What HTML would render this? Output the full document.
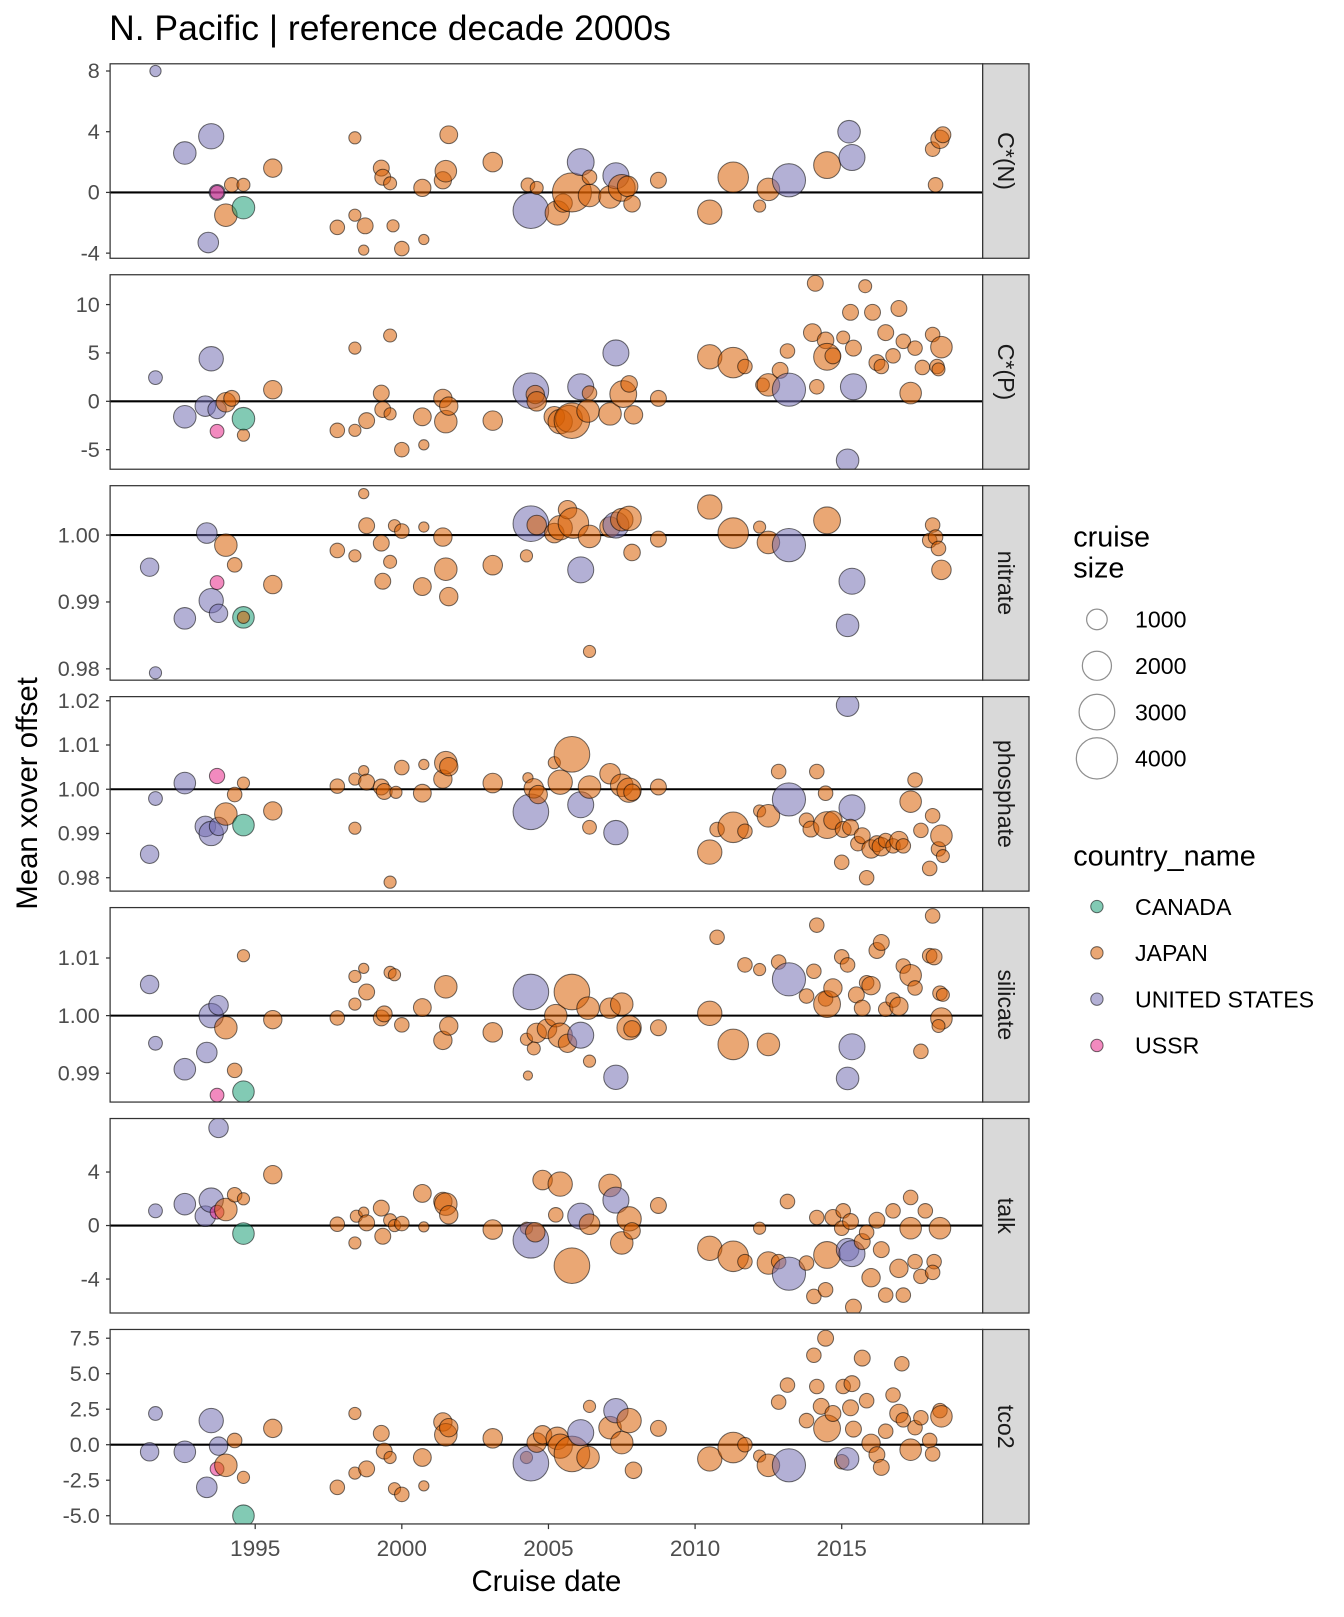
<!DOCTYPE html>
<html><head><meta charset="utf-8"><style>
body{margin:0;background:#fff}
svg text{font-family:"Liberation Sans",sans-serif}
</style></head><body>
<svg id="chart" width="1344" height="1612" viewBox="0 0 1344 1612" xmlns="http://www.w3.org/2000/svg">
<g id="scaler" transform="scale(1.029)">
<text x="106" y="39" font-size="34.5" fill="#000">N. Pacific | reference decade 2000s</text>
<text transform="translate(36,771) rotate(-90)" text-anchor="middle" font-size="28.5">Mean xover offset</text>
<text x="531" y="1546" text-anchor="middle" font-size="28.5">Cruise date</text>
<g id="panels"></g>
<g id="legend">
<text x="1043" y="531" font-size="28">cruise</text>
<text x="1043" y="561" font-size="28">size</text>
<text x="1043" y="841" font-size="28">country_name</text>
</g>
</g>
</svg>
<script>
const xTickYears=[1995,2000,2005,2010,2015];
const countryNames={C:'CANADA',J:'JAPAN',U:'UNITED STATES',R:'USSR'};
const countryColors={C:'#1b9e77',J:'#d95f02',U:'#7570b3',R:'#e7298a'};
const legendCountries=['C','J','U','R'];
const legendSizes=[1000,2000,3000,4000];

const dataCN=[[1991.6,8,300,'U'],[1993.5,3.7,1500,'U'],[1992.6,2.6,1200,'U'],[1993.4,-3.3,1000,'U'],[1993.7,0,600,'U'],[1993.7,0,450,'R'],[1994.0,-1.5,1200,'J'],[1994.2,0.5,500,'J'],[1994.6,0.5,400,'J'],[1994.6,-1.0,1200,'C'],[1995.6,1.6,800,'J'],[1998.4,3.6,350,'J'],[1997.8,-2.3,500,'J'],[1998.4,-1.5,350,'J'],[1998.75,-2.2,600,'J'],[1998.7,-3.8,250,'J'],[1999.3,1.6,600,'J'],[1999.35,1.0,600,'J'],[1999.6,0.6,400,'J'],[1999.7,-2.2,350,'J'],[2000,-3.7,500,'J'],[2000.7,0.3,700,'J'],[2000.75,-3.1,250,'J'],[2001.4,0.8,700,'J'],[2001.5,1.4,1100,'J'],[2001.6,3.8,750,'J'],[2003.1,2.0,900,'J'],[2004.3,0.5,450,'J'],[2004.4,-1.2,3000,'U'],[2004.6,0.3,400,'J'],[2005.3,-1.35,1400,'J'],[2005.5,-0.7,800,'J'],[2005.8,0,3600,'J'],[2006.1,2.0,1700,'U'],[2006.4,-0.2,1200,'J'],[2006.4,1.0,500,'J'],[2007.1,-0.3,1200,'J'],[2007.3,1.1,1600,'U'],[2007.5,0.3,1700,'J'],[2007.7,0.4,1000,'J'],[2007.85,-0.75,650,'J'],[2008.75,0.8,600,'J'],[2010.5,-1.3,1400,'J'],[2011.3,1.0,2200,'J'],[2012.2,-0.9,350,'J'],[2012.5,0.2,1200,'J'],[2013.2,0.8,2600,'U'],[2014.5,1.8,1700,'J'],[2015.25,4.0,1200,'U'],[2015.35,2.3,1600,'U'],[2018.1,2.85,500,'J'],[2018.2,0.5,500,'J'],[2018.35,3.5,800,'J'],[2018.45,3.8,600,'J']];

const dataCP=[[1991.6,2.45,450,'U'],[1993.5,4.4,1400,'U'],[1992.6,-1.6,1200,'U'],[1993.3,-0.5,1000,'U'],[1993.7,-0.85,800,'U'],[1993.7,-3.1,450,'R'],[1994,-0.1,900,'J'],[1994.2,0.3,600,'J'],[1994.6,-3.5,350,'J'],[1994.6,-1.8,1200,'C'],[1995.6,1.2,800,'J'],[1998.4,5.5,350,'J'],[1997.8,-3.0,500,'J'],[1998.4,-3.0,350,'J'],[1998.8,-2.0,600,'J'],[1999.3,0.85,600,'J'],[1999.35,-0.85,600,'J'],[1999.6,6.8,400,'J'],[1999.6,-1.3,350,'J'],[2000,-5,500,'J'],[2000.7,-1.6,750,'J'],[2000.75,-4.5,250,'J'],[2001.4,0.3,800,'J'],[2001.5,-2.1,1200,'J'],[2001.6,-0.5,800,'J'],[2003.1,-2.0,900,'J'],[2004.4,1.1,3000,'U'],[2004.55,0.7,800,'J'],[2004.6,0,900,'J'],[2005.2,-1.6,1000,'J'],[2005.4,-2.1,1400,'J'],[2005.7,-1.8,1700,'J'],[2005.8,-2.0,3000,'J'],[2006.1,1.5,1600,'U'],[2006.4,0.85,500,'J'],[2006.35,-1.0,1200,'J'],[2007.1,-1.3,1200,'J'],[2007.3,5.0,1600,'U'],[2007.55,0.75,1700,'J'],[2007.75,1.8,650,'J'],[2007.9,-1.4,800,'J'],[2008.75,0.3,600,'J'],[2010.5,4.6,1400,'J'],[2011.3,4.0,2200,'J'],[2011.7,3.6,500,'J'],[2012.3,1.7,450,'J'],[2012.5,1.7,1200,'J'],[2012.9,3.2,600,'J'],[2013.2,1.2,2600,'U'],[2013.15,5.2,500,'J'],[2014.1,12.2,600,'J'],[2014.0,7.1,750,'J'],[2014.15,1.5,500,'J'],[2014.45,6.3,650,'J'],[2014.5,4.6,1700,'J'],[2014.7,4.7,600,'J'],[2015.4,1.5,1600,'U'],[2015.2,-6.1,1200,'U'],[2015.05,6.6,400,'J'],[2015.3,9.2,600,'J'],[2015.4,5.5,600,'J'],[2015.8,11.9,400,'J'],[2016.05,9.2,600,'J'],[2016.2,4.0,600,'J'],[2016.35,3.6,500,'J'],[2016.5,7.1,600,'J'],[2016.75,4.7,500,'J'],[2016.95,9.6,600,'J'],[2017.1,6.2,500,'J'],[2017.35,0.85,1100,'J'],[2017.5,5.5,500,'J'],[2017.75,3.5,500,'J'],[2018.1,6.9,500,'J'],[2018.25,3.6,500,'J'],[2018.4,5.6,1100,'J'],[2018.3,3.3,400,'J']];

const dataNO3=[[1991.4,0.9952,800,'U'],[1991.6,0.9794,350,'U'],[1992.6,0.98755,1100,'U'],[1993.35,1.0003,1000,'U'],[1993.5,0.9902,1400,'U'],[1993.75,0.9883,800,'U'],[1993.7,0.9929,450,'R'],[1994.0,0.9985,1200,'J'],[1994.3,0.99555,500,'J'],[1994.6,0.9877,1100,'C'],[1994.6,0.9877,350,'J'],[1995.6,0.9926,800,'J'],[1997.8,0.9977,500,'J'],[1998.4,0.9969,350,'J'],[1998.7,1.0062,250,'J'],[1998.8,1.0014,600,'J'],[1999.3,0.9988,600,'J'],[1999.35,0.9931,600,'J'],[1999.6,0.996,400,'J'],[1999.75,1.0014,350,'J'],[2000.0,1.0006,500,'J'],[2000.7,0.9923,750,'J'],[2000.75,1.0012,250,'J'],[2001.4,0.9997,800,'J'],[2001.5,0.9949,1200,'J'],[2001.6,0.9908,800,'J'],[2003.1,0.9955,900,'J'],[2004.25,0.9969,350,'J'],[2004.4,1.0017,3000,'U'],[2004.6,1.0015,900,'J'],[2005.2,1.0003,900,'J'],[2005.4,1.0011,1400,'J'],[2005.65,1.0038,800,'J'],[2005.85,1.0018,2200,'J'],[2006.1,0.9948,1600,'U'],[2006.4,0.9826,350,'J'],[2006.4,0.9998,1200,'J'],[2007.1,1.0012,1000,'J'],[2007.3,1.0015,1600,'U'],[2007.5,1.0023,1200,'J'],[2007.75,1.0025,1400,'J'],[2007.85,0.9974,650,'J'],[2008.75,0.9994,600,'J'],[2010.5,1.0042,1400,'J'],[2011.3,1.0003,2200,'J'],[2012.2,1.0012,350,'J'],[2012.5,0.9989,1200,'J'],[2013.2,0.9985,2600,'U'],[2014.5,1.0022,1700,'J'],[2015.35,0.9931,1600,'U'],[2015.2,0.9865,1200,'U'],[2018.1,1.0015,500,'J'],[2018.0,0.9992,500,'J'],[2018.2,0.9997,500,'J'],[2018.3,0.998,500,'J'],[2018.4,0.9948,900,'J']];

const dataPO4=[[1991.4,0.9853,800,'U'],[1991.6,0.9979,450,'U'],[1992.6,1.0014,1100,'U'],[1993.3,0.9916,1000,'U'],[1993.5,0.99,1400,'U'],[1993.75,0.9916,800,'U'],[1993.7,1.003,550,'R'],[1994,0.9944,1200,'J'],[1994.3,0.9988,500,'J'],[1994.6,1.0014,350,'J'],[1994.6,0.9919,1100,'C'],[1995.6,0.9951,800,'J'],[1997.8,1.0007,500,'J'],[1998.4,0.9912,350,'J'],[1998.4,1.0023,350,'J'],[1998.7,1.0042,250,'J'],[1998.8,1.0016,600,'J'],[1999.3,1.0005,600,'J'],[1999.4,0.9995,600,'J'],[1999.6,0.979,350,'J'],[1999.8,0.9993,350,'J'],[2000.0,1.0049,500,'J'],[2000.7,0.9991,750,'J'],[2000.75,1.0056,250,'J'],[2001.4,1.0023,800,'J'],[2001.5,1.006,1200,'J'],[2001.6,1.0051,800,'J'],[2003.1,1.0014,900,'J'],[2004.3,1.0026,250,'J'],[2004.4,0.9949,3000,'U'],[2004.5,1.0002,900,'J'],[2004.65,0.9988,800,'J'],[2005.2,1.006,350,'J'],[2005.4,1.0016,1400,'J'],[2005.8,1.0079,3000,'J'],[2006.1,0.9965,1600,'U'],[2006.4,0.9914,450,'J'],[2006.4,1.0005,1200,'J'],[2007.1,1.0035,1000,'J'],[2007.3,0.9902,1400,'U'],[2007.5,1.0009,1200,'J'],[2007.75,0.9998,1400,'J'],[2007.85,0.9993,650,'J'],[2008.75,1.0005,600,'J'],[2010.5,0.9858,1400,'J'],[2010.75,0.9909,500,'J'],[2011.3,0.9914,2200,'J'],[2011.7,0.9905,500,'J'],[2012.2,0.9951,350,'J'],[2012.5,0.994,1200,'J'],[2012.85,1.004,500,'J'],[2013.2,0.9977,2600,'U'],[2013.8,0.993,500,'J'],[2014.15,1.004,500,'J'],[2013.95,0.991,600,'J'],[2014.45,0.9991,500,'J'],[2014.5,0.9919,1700,'J'],[2014.7,0.993,800,'J'],[2015.0,0.9835,500,'J'],[2015.05,0.9909,600,'J'],[2015.2,1.019,1200,'U'],[2015.35,0.9958,1600,'U'],[2015.3,0.9914,600,'J'],[2015.55,0.9877,500,'J'],[2015.7,0.9895,600,'J'],[2015.85,0.98,500,'J'],[2016,0.9865,800,'J'],[2016.2,0.9877,600,'J'],[2016.35,0.987,800,'J'],[2016.5,0.9884,500,'J'],[2016.75,0.9872,500,'J'],[2016.95,0.9884,800,'J'],[2017.1,0.9872,500,'J'],[2017.35,0.9972,1100,'J'],[2017.5,1.0021,500,'J'],[2017.7,0.9907,500,'J'],[2018.0,0.9821,500,'J'],[2018.1,0.994,500,'J'],[2018.3,0.9865,500,'J'],[2018.4,0.9895,1100,'J'],[2018.45,0.9849,400,'J']];

const dataSI=[[1991.4,1.0054,800,'U'],[1991.6,0.9952,450,'U'],[1992.6,0.9907,1100,'U'],[1993.35,0.9936,1000,'U'],[1993.5,1.0,1400,'U'],[1993.75,1.0018,900,'U'],[1993.7,0.9862,450,'R'],[1994,0.9979,1200,'J'],[1994.3,0.9905,500,'J'],[1994.6,1.0104,350,'J'],[1994.6,0.9868,1100,'C'],[1995.6,0.9993,800,'J'],[1997.8,0.9996,500,'J'],[1998.4,1.002,350,'J'],[1998.4,1.0068,350,'J'],[1998.7,1.0082,250,'J'],[1998.8,1.0041,600,'J'],[1999.3,0.9996,600,'J'],[1999.4,1.0003,600,'J'],[1999.6,1.0075,350,'J'],[1999.75,1.0071,350,'J'],[2000.0,0.9984,500,'J'],[2000.7,1.0014,750,'J'],[2001.4,0.9957,800,'J'],[2001.5,1.005,1200,'J'],[2001.6,0.9982,800,'J'],[2003.1,0.9971,900,'J'],[2004.25,0.9959,350,'J'],[2004.3,0.9896,200,'J'],[2004.4,1.0041,3000,'U'],[2004.6,0.997,900,'J'],[2004.5,0.9943,400,'J'],[2004.95,0.9977,900,'J'],[2005.25,1.0,1200,'J'],[2005.4,0.9966,1400,'J'],[2005.65,0.9952,800,'J'],[2005.8,1.0041,3000,'J'],[2006.1,0.9966,1600,'U'],[2006.4,0.9921,350,'J'],[2006.35,1.0013,1200,'J'],[2007.1,1.0013,1000,'J'],[2007.3,0.9893,1400,'U'],[2007.5,1.002,1200,'J'],[2007.75,0.9979,1400,'J'],[2007.85,0.9977,650,'J'],[2008.75,0.9979,600,'J'],[2010.5,1.0004,1400,'J'],[2010.75,1.0136,500,'J'],[2011.3,0.995,2200,'J'],[2011.7,1.0088,500,'J'],[2012.2,1.008,350,'J'],[2012.5,0.995,1200,'J'],[2012.85,1.0093,500,'J'],[2013.2,1.0063,2600,'U'],[2013.8,1.0034,500,'J'],[2014.15,1.0157,500,'J'],[2014.05,1.0077,500,'J'],[2014.45,1.0029,500,'J'],[2014.5,1.002,1700,'J'],[2014.7,1.0048,800,'J'],[2015.0,1.0102,500,'J'],[2015.2,1.0088,500,'J'],[2015.35,0.9946,1600,'U'],[2015.2,0.9891,1200,'U'],[2015.5,1.0036,600,'J'],[2015.7,1.0013,600,'J'],[2015.85,1.0057,500,'J'],[2016,1.0052,800,'J'],[2016.2,1.0113,600,'J'],[2016.35,1.0127,600,'J'],[2016.5,1.0011,500,'J'],[2016.75,1.0027,500,'J'],[2016.95,1.0016,800,'J'],[2017.1,1.0086,500,'J'],[2017.35,1.007,1100,'J'],[2017.5,1.0048,500,'J'],[2017.7,0.9938,500,'J'],[2018.0,1.0104,500,'J'],[2018.1,1.0173,500,'J'],[2018.15,1.0102,600,'J'],[2018.35,1.0039,500,'J'],[2018.4,0.9995,1100,'J'],[2018.45,1.0036,400,'J'],[2018.3,0.9982,400,'J']];

const dataTALK=[[1991.6,1.1,450,'U'],[1992.6,1.6,1100,'U'],[1993.3,0.7,1000,'U'],[1993.5,1.9,1400,'U'],[1993.75,7.3,900,'U'],[1993.7,1.0,450,'R'],[1994,1.2,1200,'J'],[1994.3,2.3,500,'J'],[1994.6,2.0,350,'J'],[1994.6,-0.6,1100,'C'],[1995.6,3.8,800,'J'],[1997.8,0.1,500,'J'],[1998.4,-1.3,350,'J'],[1998.45,0.7,350,'J'],[1998.7,1.0,250,'J'],[1998.8,0.2,600,'J'],[1999.3,1.3,600,'J'],[1999.35,-0.8,600,'J'],[1999.6,0.4,400,'J'],[1999.75,0,350,'J'],[2000.0,0.15,500,'J'],[2000.7,2.4,750,'J'],[2000.75,-0.1,250,'J'],[2001.4,1.8,800,'J'],[2001.5,1.6,1200,'J'],[2001.6,0.8,800,'J'],[2003.1,-0.3,900,'J'],[2004.25,-0.2,350,'J'],[2004.4,-1.1,3000,'U'],[2004.55,-0.5,900,'J'],[2004.8,3.4,900,'J'],[2005.4,3.1,1400,'J'],[2005.25,0.8,500,'J'],[2005.8,-3.0,3000,'J'],[2006.1,0.7,1600,'U'],[2006.4,0.1,1000,'J'],[2007.1,3.0,1200,'J'],[2007.3,1.9,1600,'U'],[2007.5,-1.3,1200,'J'],[2007.75,0.5,1400,'J'],[2007.85,-0.4,650,'J'],[2008.75,1.5,600,'J'],[2010.5,-1.7,1400,'J'],[2011.3,-2.3,2200,'J'],[2011.7,-2.7,500,'J'],[2012.2,-0.2,350,'J'],[2012.5,-2.8,1200,'J'],[2012.85,-2.7,500,'J'],[2013.15,1.8,500,'J'],[2013.2,-3.6,2600,'U'],[2013.8,-2.8,500,'J'],[2014.05,-5.3,500,'J'],[2014.15,0.6,500,'J'],[2014.45,-4.8,500,'J'],[2014.5,-2.2,1700,'J'],[2014.7,0.6,600,'J'],[2015.0,-0.2,500,'J'],[2015.05,1.1,500,'J'],[2015.2,-1.8,1200,'U'],[2015.35,-2.1,1600,'U'],[2015.3,0.3,600,'J'],[2015.4,-6.1,600,'J'],[2015.7,-1.2,600,'J'],[2015.85,-0.5,500,'J'],[2016,-3.9,800,'J'],[2016.2,0.4,600,'J'],[2016.35,-1.8,600,'J'],[2016.5,-5.2,500,'J'],[2016.75,1.1,500,'J'],[2016.95,-3.2,800,'J'],[2017.1,-5.2,500,'J'],[2017.35,-0.2,1100,'J'],[2017.35,2.1,500,'J'],[2017.5,-2.7,500,'J'],[2017.7,-3.8,500,'J'],[2017.85,1.1,500,'J'],[2018.15,-2.7,500,'J'],[2018.1,-3.5,500,'J'],[2018.35,-0.2,1100,'J']];

const dataTCO2=[[1991.4,-0.5,800,'U'],[1991.6,2.2,450,'U'],[1992.6,-0.5,1100,'U'],[1993.35,-3.0,1000,'U'],[1993.5,1.7,1400,'U'],[1993.75,-0.1,800,'U'],[1993.7,-1.7,450,'R'],[1994,-1.45,1200,'J'],[1994.3,0.3,500,'J'],[1994.6,-2.3,350,'J'],[1994.6,-5.0,1100,'C'],[1995.6,1.15,800,'J'],[1997.8,-3.0,500,'J'],[1998.4,2.2,350,'J'],[1998.4,-2.0,350,'J'],[1998.8,-1.7,600,'J'],[1999.3,0.8,600,'J'],[1999.4,-0.45,600,'J'],[1999.6,-0.9,350,'J'],[1999.75,-3.1,350,'J'],[2000.0,-3.5,500,'J'],[2000.7,-0.9,750,'J'],[2000.75,-2.9,250,'J'],[2001.4,1.6,800,'J'],[2001.5,0.7,1200,'J'],[2001.6,1.2,800,'J'],[2003.1,0.45,900,'J'],[2004.25,-0.9,350,'J'],[2004.4,-1.3,3000,'U'],[2004.6,0.15,900,'J'],[2004.8,0.7,800,'J'],[2005.3,0.45,1200,'J'],[2005.4,-0.1,1400,'J'],[2005.8,-0.65,3000,'J'],[2006.1,0.85,1600,'U'],[2006.4,2.7,350,'J'],[2006.35,-0.9,1200,'J'],[2007.1,1.2,1200,'J'],[2007.3,2.4,1400,'U'],[2007.5,0.15,1200,'J'],[2007.75,1.7,1400,'J'],[2007.9,-1.8,650,'J'],[2008.75,1.15,600,'J'],[2010.5,-1.0,1400,'J'],[2011.3,-0.2,2200,'J'],[2011.7,0,500,'J'],[2012.2,-0.8,350,'J'],[2012.5,-1.45,1200,'J'],[2012.85,3.0,500,'J'],[2013.15,4.2,500,'J'],[2013.2,-1.45,2600,'U'],[2013.8,1.7,500,'J'],[2014.05,6.3,500,'J'],[2014.45,7.5,600,'J'],[2014.3,2.7,600,'J'],[2014.15,4.1,500,'J'],[2014.5,1.15,1700,'J'],[2014.7,2.2,600,'J'],[2015.0,-1.2,500,'J'],[2015.05,4.1,500,'J'],[2015.2,-1.0,1200,'U'],[2015.35,4.3,600,'J'],[2015.3,2.6,600,'J'],[2015.4,1.1,600,'J'],[2015.7,6.1,600,'J'],[2015.85,3.1,500,'J'],[2016,0.1,800,'J'],[2016.2,-0.7,600,'J'],[2016.35,-1.6,600,'J'],[2016.5,0.95,500,'J'],[2016.75,3.5,500,'J'],[2016.95,2.2,800,'J'],[2017.05,5.7,500,'J'],[2017.1,1.75,500,'J'],[2017.35,-0.35,1100,'J'],[2017.5,1.2,500,'J'],[2017.7,1.9,500,'J'],[2018.0,0.3,500,'J'],[2018.1,-0.65,500,'J'],[2018.35,2.4,500,'J'],[2018.4,2.0,1100,'J']];

const ticksCN=[8,4,0,-4], labelsCN=['8','4','0','-4'];
const ticksCP=[10,5,0,-5], labelsCP=['10','5','0','-5'];
const ticksNO3=[1.00,0.99,0.98], labelsNO3=['1.00','0.99','0.98'];
const ticksPO4=[1.02,1.01,1.00,0.99,0.98], labelsPO4=['1.02','1.01','1.00','0.99','0.98'];
const ticksSI=[1.01,1.00,0.99], labelsSI=['1.01','1.00','0.99'];
const ticksTALK=[4,0,-4], labelsTALK=['4','0','-4'];
const ticksTCO2=[7.5,5,2.5,0,-2.5,-5], labelsTCO2=['7.5','5.0','2.5','0.0','-2.5','-5.0'];

const NS='http://www.w3.org/2000/svg';
const X0=107,X1=955;
function xScale(yr){return 248+(yr-1995)*28.5;}
function rScale(s){return 10*Math.sqrt(s/1000);}
function mk(tag,attrs,parent){const e=document.createElementNS(NS,tag);for(const k in attrs)e.setAttribute(k,attrs[k]);parent.appendChild(e);return e;}

const panels=[
 ['C*(N)',62,0,187,14.75,dataCN,ticksCN,labelsCN,'cstar-n'],
 ['C*(P)',267,0,390,9.4,dataCP,ticksCP,labelsCP,'cstar-p'],
 ['nitrate',472,1,520,6500,dataNO3,ticksNO3,labelsNO3,'nitrate'],
 ['phosphate',677,1,767,4300,dataPO4,ticksPO4,labelsPO4,'phosphate'],
 ['silicate',882,1,987,5600,dataSI,ticksSI,labelsSI,'silicate'],
 ['talk',1087,0,1191,13,dataTALK,ticksTALK,labelsTALK,'talk'],
 ['tco2',1292,0,1404,13.8,dataTCO2,ticksTCO2,labelsTCO2,'tco2']
];
const root=document.getElementById('panels');
const defs=mk('defs',{},root);
panels.forEach((p,i)=>{
 const [name,top,ref,refPx,ppu,data,ticks,labels,slug]=p;
 const H=189;
 const yS=v=>refPx-(v-ref)*ppu;
 const g=mk('g',{},root);
 
 
 const cp=mk('clipPath',{id:'clip'+i},defs);
 mk('rect',{x:X0,y:top,width:X1-X0,height:H},cp);
 const bg=mk('rect',{x:X0,y:top,width:X1-X0,height:H,fill:'#fff'},g);
 
 
 const zl=mk('line',{x1:X0,x2:X1,y1:yS(ref),y2:yS(ref),stroke:'#000','stroke-width':2},g);
 
 
 const pg=mk('g',{'clip-path':'url(#clip'+i+')'},g);
 data.forEach(d=>{
  const c=mk('circle',{cx:xScale(d[0]),cy:yS(d[1]),r:rScale(d[2]),fill:countryColors[d[3]],'fill-opacity':0.55,stroke:'#000','stroke-opacity':0.55,'stroke-width':1},pg);
  
  
 });
 const fr=mk('rect',{x:X0,y:top,width:X1-X0,height:H,fill:'none',stroke:'#333','stroke-width':1.2},g);
 
 
 ticks.forEach((t,k)=>{
  const y=yS(t);
  mk('line',{x1:X0-4,x2:X0,y1:y,y2:y,stroke:'#333','stroke-width':1.2},g);
  const tl=mk('text',{x:X0-10,y:y+7,'text-anchor':'end','font-size':21,fill:'#4d4d4d'},g);
  tl.textContent=labels[k];
  
  
 });
 const st=mk('rect',{x:X1,y:top,width:45,height:H,fill:'#d9d9d9',stroke:'#333','stroke-width':1.2},g);
 
 
 const sl=mk('text',{transform:`translate(${X1+15},${top+H/2}) rotate(90)`,'text-anchor':'middle','font-size':22.5,fill:'#1a1a1a'},g);
 sl.textContent=name;
 
 
});
const xa=mk('g',{},root);


xTickYears.forEach(yr=>{
 const x=xScale(yr);
 mk('line',{x1:x,x2:x,y1:1481,y2:1486,stroke:'#333','stroke-width':1.2},xa);
 const t=mk('text',{x:x,y:1512,'text-anchor':'middle','font-size':22,fill:'#4d4d4d'},xa);
 t.textContent=yr;
 
 
});
const lg=document.getElementById('legend');
legendSizes.forEach((s,k)=>{
 const y=602+k*45;
 const c=mk('circle',{cx:1066,cy:y,r:rScale(s),fill:'none',stroke:'#444','stroke-opacity':0.6,'stroke-width':1.2},lg);
 
 
 const t=mk('text',{x:1103,y:y+8,'font-size':22.5},lg);
 t.textContent=s;
 
 
});
legendCountries.forEach((c,k)=>{
 const y=881+k*45;
 const ci=mk('circle',{cx:1066,cy:y,r:6,fill:countryColors[c],'fill-opacity':0.55,stroke:'#000','stroke-opacity':0.55},lg);
 
 
 const t=mk('text',{x:1103,y:y+8,'font-size':22.5},lg);
 t.textContent=countryNames[c];
 
 
});
</script>
</body></html>
